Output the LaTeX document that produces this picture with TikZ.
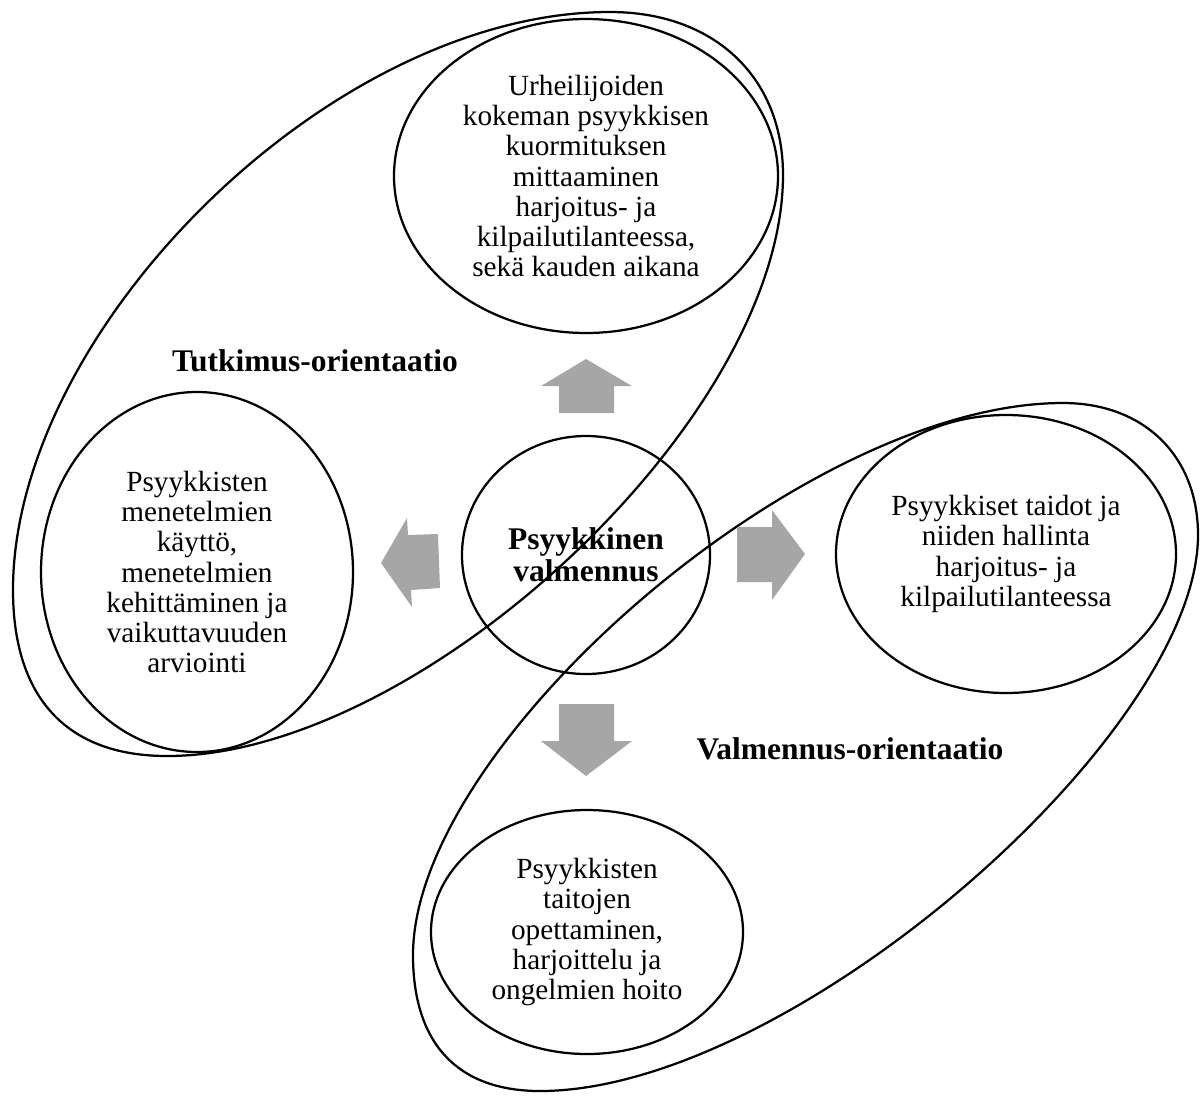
\documentclass[tikz,border=0pt]{standalone}
\usepackage{fontspec}
\setmainfont{Liberation Serif}
\usetikzlibrary{shapes.geometric}
\definecolor{arrowgray}{RGB}{166,166,166}

\begin{document}
\begin{tikzpicture}[
    x=0.4pt, y=-0.4pt,
    font=\fontsize{11.7}{12.1}\selectfont,
    topic/.style={ellipse, draw=black, line width=0.9pt, inner sep=0pt, align=center},
    orient/.style={draw=black, line width=0.9pt},
    blockarrow/.style={fill=arrowgray},
    orientlabel/.style={font=\fontsize{12.6}{13}\selectfont\bfseries}
]
\useasboundingbox (0,0) rectangle (1200,1095);

% Topic ellipses
\node[topic, minimum width=153.6pt, minimum height=125.6pt] (kuorm) at (586,176)
    {Urheilijoiden\\kokeman psyykkisen\\kuormituksen\\mittaaminen\\harjoitus- ja\\kilpailutilanteessa,\\sekä kauden aikana};
\node[topic, minimum width=124.8pt, minimum height=144pt] (menet) at (197,572)
    {Psyykkisten\\menetelmien\\käyttö,\\menetelmien\\kehittäminen ja\\vaikuttavuuden\\arviointi};
\node[topic, minimum width=99.2pt, minimum height=95.2pt,
      font=\fontsize{12.6}{12.8}\selectfont\bfseries] (valm) at (586,555)
    {Psyykkinen\\valmennus};
\node[topic, minimum width=136pt, minimum height=111.2pt] (taidot) at (1006,554)
    {Psyykkiset taidot ja\\niiden hallinta\\harjoitus- ja\\kilpailutilanteessa};
\node[topic, minimum width=124.8pt, minimum height=97.6pt] (opetus) at (587,932)
    {Psyykkisten\\taitojen\\opettaminen,\\harjoittelu ja\\ongelmien hoito};

% Orientation outlines
\draw[orient] (610,12) .. controls (714,12) and (783,77) .. (783,175)
    .. controls (783,420) and (420,756) .. (167,756)
    .. controls (67,756) and (13,698) .. (13,590)
    .. controls (13,330) and (330,12) .. cycle;
\draw[orient] (1063,403) .. controls (1144,403) and (1198,456) .. (1198,535)
    .. controls (1198,735) and (790,1091) .. (540,1091)
    .. controls (457,1091) and (413,1043) .. (413,955)
    .. controls (413,745) and (803,403) .. cycle;

\node[orientlabel] (tutk) at (315,361) {Tutkimus-orientaatio};
\node[orientlabel] (valmor) at (850,749) {Valmennus-orientaatio};

% Block arrows
\fill[blockarrow] (559,413) -- (559,386) -- (541,386) -- (586,359) -- (632,386) -- (614,386) -- (614,413) -- cycle;
\fill[blockarrow] (559,704) -- (614,704) -- (614,741) -- (632,741) -- (586,776) -- (541,741) -- (559,741) -- cycle;
\fill[blockarrow] (737,527) -- (772,527) -- (772,510) -- (805,554) -- (772,600) -- (772,582) -- (737,582) -- cycle;
\fill[blockarrow] (438,534) -- (408,535) -- (407,518) -- (381,563) -- (412,607) -- (411,590) -- (440,588) -- cycle;

\end{tikzpicture}
\end{document}
